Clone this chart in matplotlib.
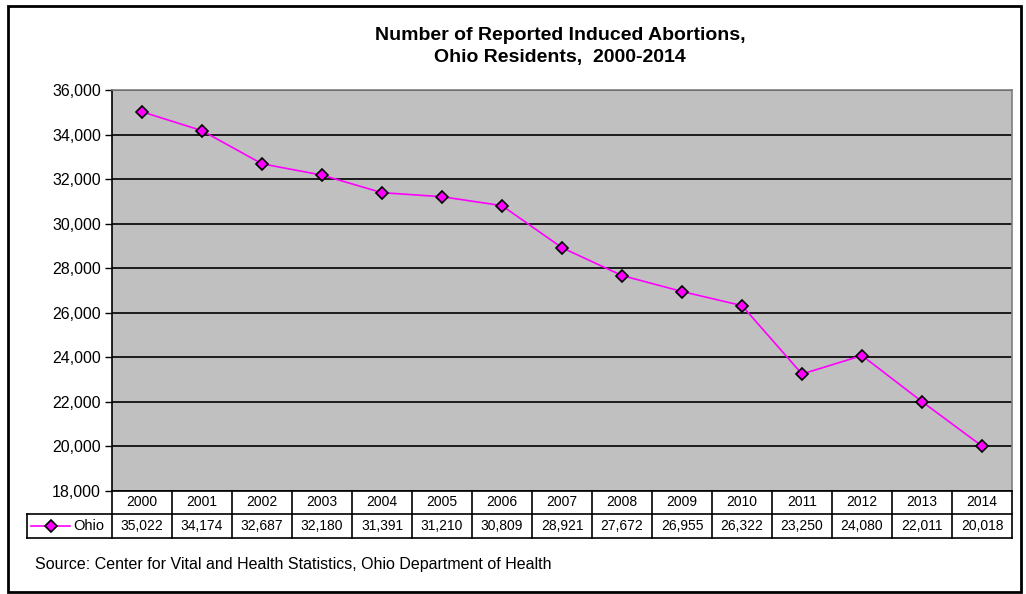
import matplotlib
matplotlib.use("Agg")
import matplotlib.pyplot as plt
from matplotlib.lines import Line2D
from matplotlib.patches import Rectangle
from matplotlib.transforms import blended_transform_factory

# data
years = ["2000", "2001", "2002", "2003", "2004", "2005", "2006", "2007",
         "2008", "2009", "2010", "2011", "2012", "2013", "2014"]
abortions = [35022, 34174, 32687, 32180, 31391, 31210, 30809, 28921,
             27672, 26955, 26322, 23250, 24080, 22011, 20018]
series_name = "Ohio"
title = "Number of Reported Induced Abortions,\nOhio Residents,  2000-2014"
source = "Source: Center for Vital and Health Statistics, Ohio Department of Health"

W, H = 1026, 594
plt.rcParams['font.family'] = ['Liberation Sans', 'DejaVu Sans']
fig = plt.figure(figsize=(W / 100, H / 100), dpi=100)


def fx(x):
    return x / W


def fy(y):
    return 1 - y / H


# outer chart border
fig.patches.append(Rectangle((fx(8), fy(592)), fx(1021) - fx(8), fy(6) - fy(592),
                             transform=fig.transFigure, fill=False,
                             edgecolor='black', linewidth=2))

# plot area
left, right, top, bottom = 112, 1012, 90, 491
ax = fig.add_axes([fx(left), fy(bottom), fx(right) - fx(left), fy(top) - fy(bottom)])
ax.set_facecolor('#C0C0C0')
x = list(range(len(years)))
ax.plot(x, abortions, color='#FF00FF', linewidth=1.2, marker='D', markersize=6,
        markerfacecolor='#FF00FF', markeredgecolor='black', markeredgewidth=1.2,
        zorder=3)
ax.set_xlim(-0.5, len(years) - 0.5)
ax.set_ylim(18000, 36000)
ax.set_yticks(range(18000, 36001, 2000))
ax.set_yticklabels([f"{v:,}" for v in range(18000, 36001, 2000)], fontsize=11.5)
ax.set_xticks([])
ax.grid(axis='y', color='black', linewidth=1.2)
ax.set_axisbelow(True)
ax.tick_params(axis='y', length=5, width=1, pad=3, direction='out')
ax.spines['left'].set_color('black')
ax.spines['bottom'].set_color('black')
ax.spines['top'].set_color('#808080')
ax.spines['right'].set_color('#808080')
for s in ax.spines.values():
    s.set_linewidth(1.2)

fig.text(fx(560), fy(46.5), title, ha='center', va='center', fontsize=14,
         fontweight='bold', linespacing=1.4)

# data table below the plot
tr = blended_transform_factory(ax.transData, fig.transFigure)
row_top, row_mid, row_bot = 491, 514, 538
lw = 1.2
for i in range(len(years) + 1):
    xe = i - 0.5
    fig.add_artist(Line2D([xe, xe], [fy(row_top), fy(row_bot)], transform=tr,
                          color='black', linewidth=lw))
fig.add_artist(Line2D([fx(27), fx(right)], [fy(row_mid), fy(row_mid)],
                      transform=fig.transFigure, color='black', linewidth=lw))
fig.add_artist(Line2D([fx(27), fx(right)], [fy(row_bot), fy(row_bot)],
                      transform=fig.transFigure, color='black', linewidth=lw))
fig.add_artist(Line2D([fx(27), fx(27)], [fy(row_mid), fy(row_bot)],
                      transform=fig.transFigure, color='black', linewidth=lw))
for i, (yr, v) in enumerate(zip(years, abortions)):
    fig.text(i, fy((row_top + row_mid) / 2), yr, transform=tr, ha='center',
             va='center', fontsize=10)
    fig.text(i, fy((row_mid + row_bot) / 2), f"{v:,}", transform=tr,
             ha='center', va='center', fontsize=10)

# legend key in the table
ky = fy((row_mid + row_bot) / 2)
fig.add_artist(Line2D([fx(31), fx(70)], [ky, ky], transform=fig.transFigure,
                      color='#FF00FF', linewidth=1.2))
fig.add_artist(Line2D([fx(51)], [ky], transform=fig.transFigure, marker='D',
                      markersize=6, markerfacecolor='#FF00FF',
                      markeredgecolor='black', markeredgewidth=1.2))
fig.text(fx(73), ky, series_name, ha='left', va='center', fontsize=10.5)

fig.text(fx(35), fy(565), source, ha='left', va='center', fontsize=11.5)

fig.savefig("out.png", dpi=100)
